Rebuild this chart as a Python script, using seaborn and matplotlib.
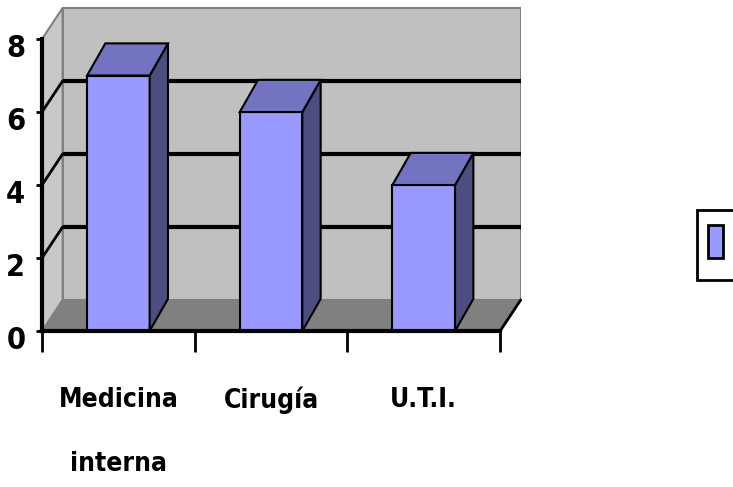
import matplotlib
matplotlib.use("Agg")
import matplotlib.pyplot as plt
import matplotlib.transforms as mtransforms
import seaborn as sns
from matplotlib.patches import Polygon, Patch

categorias = ["Medicina\ninterna", "Cirugía", "U.T.I."]
valores = [7, 6, 4]
ticks_y = [0, 2, 4, 6, 8]
serie = ""

sns.set_style("white")
plt.rcParams["font.family"] = ["DejaVu Sans"]
plt.rcParams["font.stretch"] = "condensed"
plt.rcParams["text.color"] = "black"
plt.rcParams["xtick.color"] = "black"
plt.rcParams["ytick.color"] = "black"

fig = plt.figure(figsize=(7.33, 4.87), dpi=100)
# front plane: x px 42..500, y=0 at px 331, 36.5 px per unit
ax = fig.add_axes([42 / 733, (487 - 331) / 487, 478.7 / 733, 8.9 * 36.5 / 487])

frente = "#9999ff"
lado = "#4d4d80"
techo = "#7373c2"

sns.barplot(x=categorias, y=valores, color=frente, saturation=1, width=0.41,
            edgecolor="black", linewidth=1.5, ax=ax, zorder=2)

n = len(categorias)
x0, x1 = -0.5, n - 0.5
wx, wy = 0.135, 0.85   # depth of the walls
bx, by = 0.12, 0.88    # depth of the bars
ymax = ticks_y[-1]

# back wall, side wall, floor
ax.add_patch(Polygon([(x0 + wx, wy), (x1 + wx, wy), (x1 + wx, ymax + wy), (x0 + wx, ymax + wy)],
                     closed=True, fc="#c0c0c0", ec="#808080", lw=1.5, zorder=0.1))
ax.add_patch(Polygon([(x0, 0), (x0 + wx, wy), (x0 + wx, ymax + wy), (x0, ymax)],
                     closed=True, fc="#c8c8c8", ec="#808080", lw=1.5, zorder=0.2))
ax.add_patch(Polygon([(x0, 0), (x1, 0), (x1 + wx, wy), (x0 + wx, wy)],
                     closed=True, fc="#808080", ec="none", zorder=0.3))
ax.plot([x1, x1 + wx], [0, wy], color="black", lw=2, zorder=0.4, clip_on=False)

# gridlines on back and side wall
for v in ticks_y[1:-1]:
    ax.plot([x0 + wx, x1 + wx], [v + wy, v + wy], color="black", lw=3, zorder=0.5,
            solid_capstyle="butt")
    ax.plot([x0, x0 + wx], [v, v + wy], color="black", lw=2, zorder=0.5)

# 3d faces of the bars
for p in ax.patches:
    if not isinstance(p, matplotlib.patches.Rectangle):
        continue
    a = p.get_x()
    b = a + p.get_width()
    h = p.get_height()
    ax.add_patch(Polygon([(b, 0), (b + bx, by), (b + bx, h + by), (b, h)],
                         closed=True, fc=lado, ec="black", lw=1.5, zorder=2.1))
    ax.add_patch(Polygon([(a, h), (b, h), (b + bx, h + by), (a + bx, h + by)],
                         closed=True, fc=techo, ec="black", lw=1.5, zorder=2.1))

ax.set_xlim(x0, x1 + wx)
ax.set_ylim(0, ymax + 0.9)
ax.set_xlabel("")
ax.set_ylabel("")

for s in ["top", "right"]:
    ax.spines[s].set_visible(False)
ax.spines["left"].set_bounds(0, ymax)
ax.spines["bottom"].set_bounds(x0, x1)
for s in ["left", "bottom"]:
    ax.spines[s].set_linewidth(3)
    ax.spines[s].set_color("black")
    ax.spines[s].set_zorder(3)

ax.set_yticks(ticks_y)
ax.set_yticklabels([str(t) for t in ticks_y], fontsize=22, fontweight="bold")
ax.tick_params(axis="y", direction="out", length=4, width=2, pad=8, left=True)
bajar = mtransforms.ScaledTranslation(0, -5 / 72, fig.dpi_scale_trans)
for lbl in ax.get_yticklabels():
    lbl.set_transform(lbl.get_transform() + bajar)

ax.set_xticks(range(n))
ax.set_xticklabels(categorias, fontsize=19, fontweight="bold", linespacing=2.9)
ax.set_xticks([i - 0.5 for i in range(n + 1)], minor=True)
ax.tick_params(axis="x", which="major", length=0, pad=40)
ax.tick_params(axis="x", which="minor", direction="out", length=15, width=2, bottom=True)

leg = fig.legend(handles=[Patch(facecolor=frente, edgecolor="black", linewidth=2)],
                 labels=[serie], loc="upper left",
                 bbox_to_anchor=(697 / 733, 1 - 210 / 487), borderaxespad=0,
                 fontsize=36, borderpad=0.22, handlelength=0.3, handleheight=0.64,
                 handletextpad=0.5, fancybox=False, framealpha=1)
leg.get_frame().set_edgecolor("black")
leg.get_frame().set_linewidth(2)

fig.savefig("out.png", dpi=100)
